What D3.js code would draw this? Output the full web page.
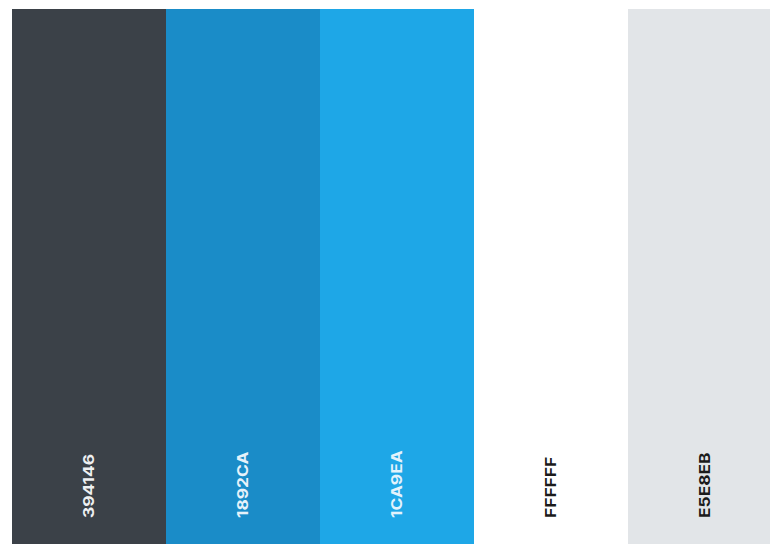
<!DOCTYPE html>
<html>
<head>
  <meta charset="utf-8">
  <script src="https://cdn.jsdelivr.net/npm/d3@7"></script>
  <style>
    body { margin: 0; background: #fff; }
  </style>
</head>
<body>
  <svg id="palette" width="770" height="544"></svg>
  <script>
    let codes = ["394146", "1892CA", "1CA9EA", "FFFFFF", "E5E8EB"]
    let fills = ["#3b4148", "#1a8cc8", "#1ea7e7", "#ffffff", "#e2e5e8"]
    let inks = ["#eef0f2", "#e6f2fa", "#e3f3fc", "#1b1b1b", "#1b1b1b"]

    let svg = d3.select("#palette")

    let scX = d3.scaleBand()
                .domain(codes)
                .range([12, 782])

    let yTop = 9, yBottom = 544

    svg.selectAll("rect")
       .data(codes)
       .enter()
       .append("rect")
       .attr("x", d => scX(d))
       .attr("y", yTop)
       .attr("width", scX.bandwidth() + 0.5)
       .attr("height", yBottom - yTop)
       .attr("fill", (d, i) => fills[i])

    // labels in the picture look stretched along their length
    svg.selectAll("text")
       .data(codes)
       .enter()
       .append("text")
       .attr("transform", d => `translate(${scX(d) + scX.bandwidth() / 2},518) rotate(-90) scale(1.2,1)`)
       .attr("dy", "0.36em")
       .attr("font-family", "Inter, 'Liberation Sans', sans-serif")
       .attr("font-weight", "bold")
       .attr("font-size", 14.5)
       .attr("fill", (d, i) => inks[i])
       .text(d => d)
  </script>
</body>
</html>
